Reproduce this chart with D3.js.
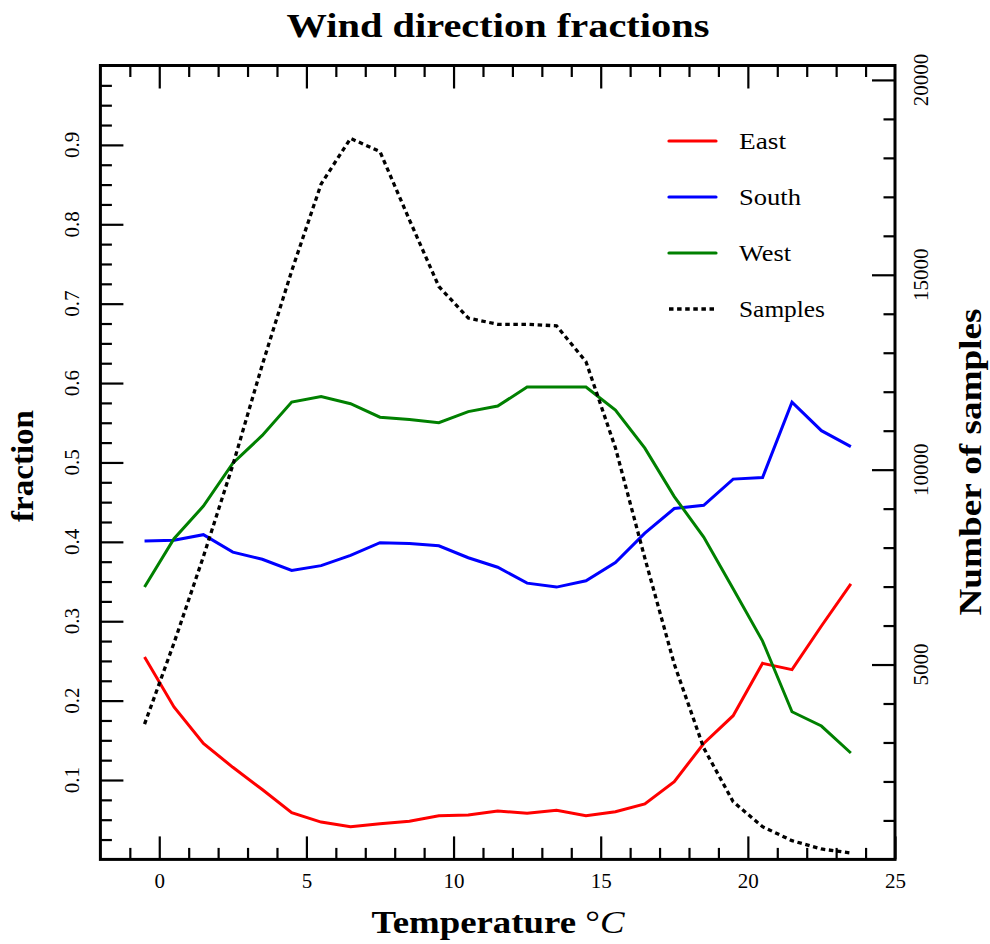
<!DOCTYPE html>
<html>
<head>
<meta charset="utf-8">
<script src="https://cdn.jsdelivr.net/npm/d3@7"></script>
<style>
  html, body { margin: 0; padding: 0; background: #fff; }
  svg { display: block; }
  text { font-family: "Liberation Serif", "DejaVu Serif", serif; fill: #000; }
</style>
</head>
<body>
<svg id="chart" width="990" height="944"></svg>
<script>
// Temperature bin centres (°C)
const temps = [-0.5, 0.5, 1.5, 2.5, 3.5, 4.5, 5.5, 6.5, 7.5, 8.5, 9.5, 10.5, 11.5,
               12.5, 13.5, 14.5, 15.5, 16.5, 17.5, 18.5, 19.5, 20.5, 21.5, 22.5, 23.5];

// Fraction of observations per wind direction in each bin
const east  = [0.255, 0.192, 0.146, 0.116, 0.088, 0.059, 0.047, 0.041, 0.045, 0.048, 0.055, 0.056, 0.061,
               0.058, 0.062, 0.055, 0.060, 0.070, 0.098, 0.146, 0.181, 0.247, 0.239, 0.294, 0.347];
const south = [0.401, 0.402, 0.409, 0.387, 0.378, 0.364, 0.370, 0.383, 0.399, 0.398, 0.395, 0.380, 0.368,
               0.348, 0.343, 0.351, 0.374, 0.411, 0.442, 0.446, 0.479, 0.481, 0.576, 0.540, 0.520];
const west  = [0.343, 0.404, 0.445, 0.499, 0.534, 0.576, 0.583, 0.574, 0.557, 0.554, 0.550, 0.564, 0.571,
               0.595, 0.595, 0.595, 0.566, 0.518, 0.457, 0.406, 0.341, 0.275, 0.186, 0.168, 0.134];

// Number of samples in each bin (right axis)
const samples = [3470, 5550, 7770, 10120, 12690, 15100, 17330, 18500, 18160, 16410, 14700, 13890, 13730,
                 13730, 13690, 12770, 10560, 7730, 5010, 2860, 1480, 840, 480, 267, 165];

// Tick values
const xMajor = [0, 5, 10, 15, 20, 25];
const xMinor = [-1, 1, 2, 3, 4, 6, 7, 8, 9, 11, 12, 13, 14, 16, 17, 18, 19, 21, 22, 23, 24];
const yMajor = [0.1, 0.2, 0.3, 0.4, 0.5, 0.6, 0.7, 0.8, 0.9];
const yMinor = [0.025, 0.05, 0.075, 0.125, 0.15, 0.175, 0.225, 0.25, 0.275, 0.325, 0.35, 0.375,
                0.425, 0.45, 0.475, 0.525, 0.55, 0.575, 0.625, 0.65, 0.675, 0.725, 0.75, 0.775,
                0.825, 0.85, 0.875, 0.925, 0.95, 0.975];
const rMajor = [5000, 10000, 15000, 20000];
const rMinor = [1000, 2000, 3000, 4000, 6000, 7000, 8000, 9000, 11000, 12000, 13000, 14000,
                16000, 17000, 18000, 19000];

const seriesNames  = ["East", "South", "West", "Samples"];
const seriesColors = ["#ff0000", "#0000ff", "#008000", "#000000"];
const legendWidths = [47, 62, 52, 86];

const svg = d3.select("#chart");
const L = 100.4, R = 895, T = 65.5, B = 859.4;

const x  = d3.scaleLinear().domain([-2, 25]).range([L, R]);
const yL = d3.scaleLinear().domain([0, 1]).range([B, T]);
const yR = d3.scaleLinear().domain([0, 20370]).range([B, T]);

const MAJ = 23, MIN = 11.5;

function styleAxis(g) {
  g.select(".domain").remove();
  g.selectAll(".tick line").attr("stroke", "#000").attr("stroke-width", 2.2);
}

// Bottom axis (ticks point inward)
svg.append("g").attr("transform", `translate(0,${B})`)
  .call(d3.axisBottom(x).tickValues(xMajor).tickSize(-MAJ).tickPadding(14).tickFormat(d3.format("d")))
  .call(styleAxis)
  .call(g => g.selectAll("text").attr("font-size", 21).attr("font-family", "Liberation Serif"));
svg.append("g").attr("transform", `translate(0,${B})`)
  .call(d3.axisBottom(x).tickValues(xMinor).tickSize(-MIN).tickFormat(""))
  .call(styleAxis);

// Top axis mirrors the bottom ticks
svg.append("g").attr("transform", `translate(0,${T})`)
  .call(d3.axisTop(x).tickValues(xMajor.filter(v => v < 25)).tickSize(-MAJ).tickFormat(""))
  .call(styleAxis);
svg.append("g").attr("transform", `translate(0,${T})`)
  .call(d3.axisTop(x).tickValues(xMinor).tickSize(-MIN).tickFormat(""))
  .call(styleAxis);

// Left axis: fraction
svg.append("g").attr("transform", `translate(${L},0)`)
  .call(d3.axisLeft(yL).tickValues(yMajor).tickSize(-MAJ).tickFormat(""))
  .call(styleAxis);
svg.append("g").attr("transform", `translate(${L},0)`)
  .call(d3.axisLeft(yL).tickValues(yMinor).tickSize(-MIN).tickFormat(""))
  .call(styleAxis);
svg.append("g").selectAll("text").data(yMajor).join("text")
  .attr("transform", d => `translate(${L - 21},${yL(d)}) rotate(-90)`)
  .attr("text-anchor", "middle")
  .attr("font-size", 21)
  .text(d3.format(".1f"));

// Right axis: number of samples
svg.append("g").attr("transform", `translate(${R},0)`)
  .call(d3.axisRight(yR).tickValues(rMajor).tickSize(-MAJ).tickFormat(""))
  .call(styleAxis);
svg.append("g").attr("transform", `translate(${R},0)`)
  .call(d3.axisRight(yR).tickValues(rMinor).tickSize(-MIN).tickFormat(""))
  .call(styleAxis);
svg.append("g").selectAll("text").data(rMajor).join("text")
  .attr("transform", d => `translate(${R + 33},${yR(d)}) rotate(-90)`)
  .attr("text-anchor", "middle")
  .attr("font-size", 21)
  .text(d => d);

// Frame
svg.append("rect")
  .attr("x", L).attr("y", T).attr("width", R - L).attr("height", B - T)
  .attr("fill", "none").attr("stroke", "#000").attr("stroke-width", 3);

// Lines
const lineL = d3.line().x((d, i) => x(temps[i])).y(d => yL(d));
const lineR = d3.line().x((d, i) => x(temps[i])).y(d => yR(d));

[east, south, west].forEach((vals, k) => {
  svg.append("path").datum(vals)
    .attr("d", lineL)
    .attr("fill", "none")
    .attr("stroke", seriesColors[k])
    .attr("stroke-width", 3)
    .attr("stroke-linejoin", "miter");
});
svg.append("path").datum(samples)
  .attr("d", lineR)
  .attr("fill", "none")
  .attr("stroke", seriesColors[3])
  .attr("stroke-width", 3.3)
  .attr("stroke-dasharray", "4.5,3.6");

// Legend
const legend = svg.append("g");
seriesNames.forEach((name, k) => {
  const ly = 141 + k * 56;
  legend.append("line")
    .attr("x1", 669).attr("x2", 716).attr("y1", ly).attr("y2", ly)
    .attr("stroke", seriesColors[k])
    .attr("stroke-width", k === 3 ? 3.3 : 3.2)
    .attr("stroke-linecap", k === 3 ? "butt" : "round")
    .attr("stroke-dasharray", k === 3 ? "4.5,3.6" : null);
  legend.append("text")
    .attr("x", 739).attr("y", ly + 8)
    .attr("font-size", 24)
    .attr("textLength", legendWidths[k]).attr("lengthAdjust", "spacingAndGlyphs")
    .text(name);
});

// Title and axis titles
svg.append("text")
  .attr("x", 498).attr("y", 37)
  .attr("text-anchor", "middle")
  .attr("font-size", 33).attr("font-weight", "bold")
  .attr("textLength", 423).attr("lengthAdjust", "spacingAndGlyphs")
  .text("Wind direction fractions");

const xt = svg.append("text")
  .attr("x", 498).attr("y", 933)
  .attr("text-anchor", "middle")
  .attr("font-size", 31)
  .attr("textLength", 253).attr("lengthAdjust", "spacingAndGlyphs");
xt.append("tspan").attr("font-weight", "bold").text("Temperature ");
xt.append("tspan").text("°");
xt.append("tspan").attr("font-style", "italic").text("C");

svg.append("text")
  .attr("transform", `translate(33,466) rotate(-90)`)
  .attr("text-anchor", "middle")
  .attr("font-size", 31).attr("font-weight", "bold")
  .attr("textLength", 112).attr("lengthAdjust", "spacingAndGlyphs")
  .text("fraction");

svg.append("text")
  .attr("transform", `translate(981,462) rotate(-90)`)
  .attr("text-anchor", "middle")
  .attr("font-size", 31).attr("font-weight", "bold")
  .attr("textLength", 307).attr("lengthAdjust", "spacingAndGlyphs")
  .text("Number of samples");
</script>
</body>
</html>
